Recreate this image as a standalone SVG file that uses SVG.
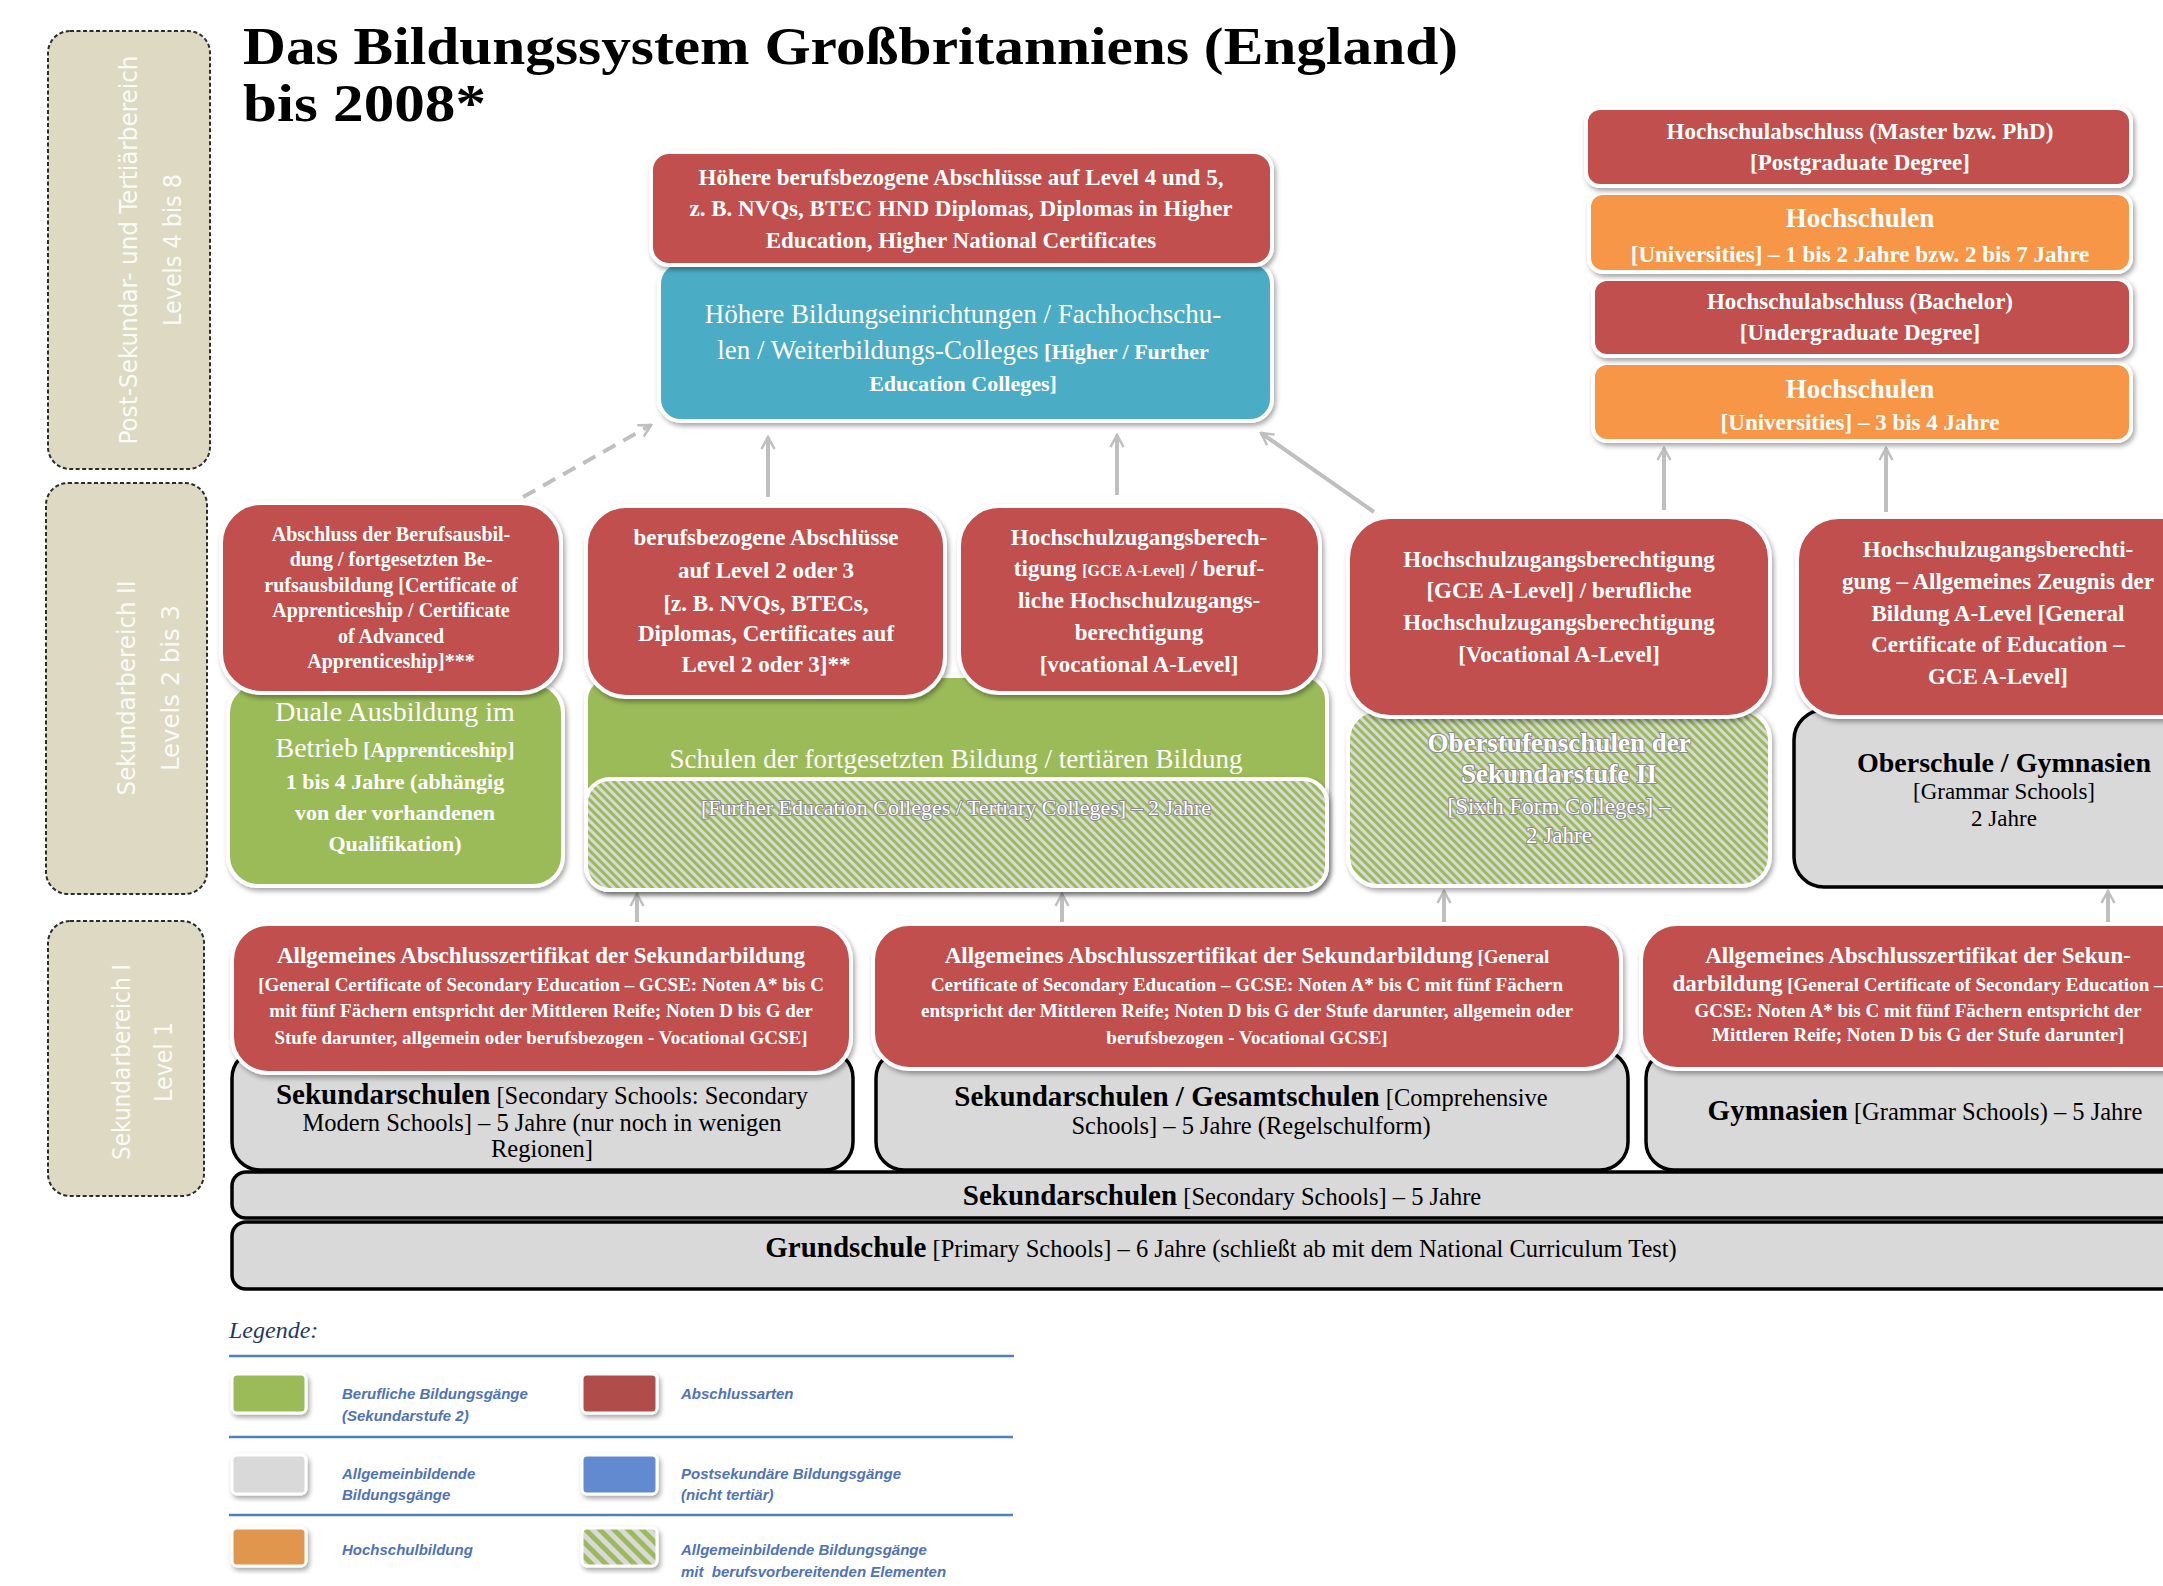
<svg xmlns="http://www.w3.org/2000/svg" width="2163" height="1586" viewBox="0 0 2163 1586">
<defs>
<style>
.bx{stroke:#fff;stroke-width:4;filter:url(#sh)}
.red{fill:#c0504d}
.grn{fill:#9bbb59}
.blu{fill:#4bacc6}
.org{fill:#f79646}
.hat{fill:url(#hatch)}
.gb{fill:#d9d9d9;stroke:#000;stroke-width:3.5}
.band{fill:#ddd9c3;stroke:#2b2b2b;stroke-width:2;stroke-dasharray:4 2.5}
.bt{font-family:"Liberation Sans Narrow","DejaVu Sans Condensed","Liberation Sans",sans-serif;font-size:25px;fill:#fbfbf6;text-anchor:middle}
.w{font-family:"Liberation Serif","DejaVu Serif",serif;fill:#fff;text-anchor:middle;font-weight:bold}
.k{font-family:"Liberation Serif","DejaVu Serif",serif;fill:#000;text-anchor:middle;font-weight:normal}
.ht{paint-order:stroke;stroke:#8c8c8c;stroke-width:2;stroke-linejoin:round}
.b{font-weight:bold}
.r{font-weight:normal}
.con{stroke:#bfbfbf;stroke-width:4;fill:none;marker-end:url(#ah)}
.lg{font-family:"Liberation Sans","DejaVu Sans",sans-serif;font-style:italic;font-weight:bold;font-size:15px;fill:#4f72b8}
.ll{stroke:#4f81bd;stroke-width:2.5}
.sw{stroke:#fff;stroke-width:3;filter:url(#sh)}
</style>
<filter id="sh" x="-10%" y="-10%" width="120%" height="130%">
<feDropShadow dx="2" dy="3" stdDeviation="2.5" flood-color="#000" flood-opacity="0.35"/>
</filter>
<pattern id="hatch" patternUnits="userSpaceOnUse" width="6" height="6" patternTransform="rotate(-45)">
<rect width="6" height="6" fill="#d9d9d9"/>
<rect width="3" height="6" fill="#9bbb59"/>
</pattern>
<pattern id="hatch2" patternUnits="userSpaceOnUse" width="10" height="10" patternTransform="rotate(-45)">
<rect width="10" height="10" fill="#d9d9d9"/>
<rect width="5" height="10" fill="#9bbb59"/>
</pattern>
<marker id="ah" viewBox="0 0 16 16" refX="14" refY="8" markerWidth="16" markerHeight="16" markerUnits="userSpaceOnUse" orient="auto">
<path d="M2,1.5 L14,8 L2,14.5" fill="none" stroke="#bfbfbf" stroke-width="2.5"/>
</marker>
</defs>
<rect width="2163" height="1586" fill="#fff"/>

<g id="title">
<text x="243" y="64" font-family="Liberation Serif, DejaVu Serif, serif" font-weight="bold" font-size="52" textLength="1215" lengthAdjust="spacingAndGlyphs">Das Bildungssystem Großbritanniens (England)</text>
<text x="243" y="121" font-family="Liberation Serif, DejaVu Serif, serif" font-weight="bold" font-size="52" textLength="243" lengthAdjust="spacingAndGlyphs">bis 2008*</text>
</g>

<g id="band-post">
<rect class="band" x="48" y="31" width="162" height="438" rx="22"/>
<text class="bt" transform="translate(137,250) rotate(-90)" textLength="389" lengthAdjust="spacingAndGlyphs">Post-Sekundar- und Tertiärbereich</text>
<text class="bt" transform="translate(181,250) rotate(-90)" textLength="152" lengthAdjust="spacingAndGlyphs">Levels 4 bis 8</text>
</g>
<g id="band-sek2">
<rect class="band" x="46" y="483" width="161" height="411" rx="22"/>
<text class="bt" transform="translate(135,688) rotate(-90)" textLength="215" lengthAdjust="spacingAndGlyphs">Sekundarbereich II</text>
<text class="bt" transform="translate(179,688) rotate(-90)" textLength="166" lengthAdjust="spacingAndGlyphs">Levels 2 bis 3</text>
</g>
<g id="band-sek1">
<rect class="band" x="48" y="921" width="156" height="275" rx="22"/>
<text class="bt" transform="translate(130,1062) rotate(-90)" textLength="196" lengthAdjust="spacingAndGlyphs">Sekundarbereich I</text>
<text class="bt" transform="translate(172,1062) rotate(-90)" textLength="80" lengthAdjust="spacingAndGlyphs">Level 1</text>
</g>

<g id="connectors">
<line class="con" x1="523" y1="497" x2="651" y2="425" stroke-dasharray="14 9"/>
<line class="con" x1="768" y1="497" x2="768" y2="437"/>
<line class="con" x1="1117" y1="495" x2="1117" y2="435"/>
<line class="con" x1="1374" y1="512" x2="1261" y2="433"/>
<line class="con" x1="1664" y1="510" x2="1664" y2="448"/>
<line class="con" x1="1886" y1="512" x2="1886" y2="448"/>
<line class="con" x1="637" y1="922" x2="637" y2="894"/>
<line class="con" x1="1062" y1="922" x2="1062" y2="894"/>
<line class="con" x1="1444" y1="922" x2="1444" y2="891"/>
<line class="con" x1="2108" y1="922" x2="2108" y2="891"/>
</g>

<g id="n-fe-colleges">
<rect class="bx blu" x="659" y="262" width="613" height="159" rx="22"/>
<text class="w r" x="963" y="323" font-size="27">Höhere Bildungseinrichtungen / Fachhochschu-</text>
<text class="w r" x="963" y="359" font-size="27">len / Weiterbildungs-Colleges<tspan class="b" font-size="22"> [Higher / Further</tspan></text>
<text class="w" x="963" y="391" font-size="22">Education Colleges]</text>
</g>
<g id="n-hoehere-abschluesse">
<rect class="bx red" x="651" y="152" width="621" height="113" rx="18"/>
<text class="w" x="961" y="185" font-size="23">Höhere berufsbezogene Abschlüsse auf Level 4 und 5,</text>
<text class="w" x="961" y="216" font-size="23">z. B. NVQs, BTEC HND Diplomas, Diplomas in Higher</text>
<text class="w" x="961" y="248" font-size="23">Education, Higher National Certificates</text>
</g>

<g id="n-uni-34">
<rect class="bx org" x="1593" y="363" width="538" height="78" rx="14"/>
<text class="w" x="1860" y="398" font-size="27">Hochschulen</text>
<text class="w" x="1860" y="430" font-size="23">[Universities] – 3 bis 4 Jahre</text>
</g>
<g id="n-bachelor">
<rect class="bx red" x="1593" y="279" width="538" height="77" rx="14"/>
<text class="w" x="1860" y="309" font-size="23">Hochschulabschluss (Bachelor)</text>
<text class="w" x="1860" y="340" font-size="23">[Undergraduate Degree]</text>
</g>
<g id="n-uni-12">
<rect class="bx org" x="1589" y="193" width="542" height="79" rx="14"/>
<text class="w" x="1860" y="227" font-size="27">Hochschulen</text>
<text class="w" x="1860" y="262" font-size="23">[Universities] – 1 bis 2 Jahre bzw. 2 bis 7 Jahre</text>
</g>
<g id="n-master">
<rect class="bx red" x="1586" y="108" width="545" height="78" rx="14"/>
<text class="w" x="1860" y="139" font-size="23">Hochschulabschluss (Master bzw. PhD)</text>
<text class="w" x="1860" y="170" font-size="23">[Postgraduate Degree]</text>
</g>

<g id="n-duale-ausbildung">
<rect class="bx grn" x="228" y="683" width="335" height="203" rx="30"/>
<text class="w r" x="395" y="721" font-size="28">Duale Ausbildung im</text>
<text class="w r" x="395" y="757" font-size="28">Betrieb<tspan class="b" font-size="21"> [Apprenticeship]</tspan></text>
<text class="w" x="395" y="789" font-size="22">1 bis 4 Jahre (abhängig</text>
<text class="w" x="395" y="820" font-size="22">von der vorhandenen</text>
<text class="w" x="395" y="851" font-size="22">Qualifikation)</text>
</g>
<g id="n-abschluss-berufsausbildung">
<rect class="bx red" x="221" y="503" width="340" height="190" rx="40"/>
<text class="w" x="391" y="541" font-size="20">Abschluss der Berufsausbil-</text>
<text class="w" x="391" y="566" font-size="20">dung / fortgesetzten Be-</text>
<text class="w" x="391" y="592" font-size="20">rufsausbildung [Certificate of</text>
<text class="w" x="391" y="617" font-size="20">Apprenticeship / Certificate</text>
<text class="w" x="391" y="643" font-size="20">of Advanced</text>
<text class="w" x="391" y="668" font-size="20">Apprenticeship]***</text>
</g>

<g id="n-schulen-fortgesetzt">
<rect class="bx grn" x="586" y="676" width="741" height="214" rx="24"/>
<text class="w r" x="956" y="768" font-size="27">Schulen der fortgesetzten Bildung / tertiären Bildung</text>
</g>
<g id="n-fe-tertiary-colleges">
<rect class="bx hat" x="586" y="779" width="741" height="111" rx="24"/>
<text class="w r ht" x="956" y="815" font-size="22">[Further Education Colleges / Tertiary Colleges] – 2 Jahre</text>
</g>
<g id="n-berufsbezogene-abschluesse">
<rect class="bx red" x="586" y="506" width="359" height="191" rx="40"/>
<text class="w" x="766" y="545" font-size="23">berufsbezogene Abschlüsse</text>
<text class="w" x="766" y="578" font-size="23">auf Level 2 oder 3</text>
<text class="w" x="766" y="611" font-size="23">[z. B. NVQs, BTECs,</text>
<text class="w" x="766" y="641" font-size="23">Diplomas, Certificates auf</text>
<text class="w" x="766" y="672" font-size="23">Level 2 oder 3]**</text>
</g>
<g id="n-hzb-vocational">
<rect class="bx red" x="959" y="506" width="361" height="187" rx="40"/>
<text class="w" x="1139" y="545" font-size="23">Hochschulzugangsberech-</text>
<text class="w" x="1139" y="576" font-size="23">tigung <tspan font-size="16">[GCE A-Level]</tspan> / beruf-</text>
<text class="w" x="1139" y="608" font-size="23">liche Hochschulzugangs-</text>
<text class="w" x="1139" y="640" font-size="23">berechtigung</text>
<text class="w" x="1139" y="672" font-size="23">[vocational A-Level]</text>
</g>

<g id="n-sixth-form">
<rect class="bx hat" x="1348" y="710" width="422" height="176" rx="30"/>
<text class="w ht" x="1559" y="752" font-size="27">Oberstufenschulen der</text>
<text class="w ht" x="1559" y="783" font-size="27">Sekundarstufe II</text>
<text class="w r ht" x="1559" y="814" font-size="23">[Sixth Form Colleges] –</text>
<text class="w r ht" x="1559" y="843" font-size="23">2 Jahre</text>
</g>
<g id="n-hzb-a-level">
<rect class="bx red" x="1348" y="517" width="422" height="200" rx="42"/>
<text class="w" x="1559" y="567" font-size="23">Hochschulzugangsberechtigung</text>
<text class="w" x="1559" y="598" font-size="23">[GCE A-Level] / berufliche</text>
<text class="w" x="1559" y="630" font-size="23">Hochschulzugangsberechtigung</text>
<text class="w" x="1559" y="662" font-size="23">[Vocational A-Level]</text>
</g>

<g id="n-oberschule">
<rect class="gb" x="1794" y="710" width="420" height="177" rx="30"/>
<text class="k b" x="2004" y="772" font-size="28">Oberschule / Gymnasien</text>
<text class="k" x="2004" y="799" font-size="23">[Grammar Schools]</text>
<text class="k" x="2004" y="826" font-size="23">2 Jahre</text>
</g>
<g id="n-hzb-gce">
<rect class="bx red" x="1797" y="517" width="420" height="200" rx="42"/>
<text class="w" x="1998" y="557" font-size="23">Hochschulzugangsberechti-</text>
<text class="w" x="1998" y="589" font-size="23">gung – Allgemeines Zeugnis der</text>
<text class="w" x="1998" y="621" font-size="23">Bildung A-Level [General</text>
<text class="w" x="1998" y="652" font-size="23">Certificate of Education –</text>
<text class="w" x="1998" y="684" font-size="23">GCE A-Level]</text>
</g>

<g id="n-grundschule">
<rect class="gb" x="232" y="1222" width="1990" height="67" rx="14"/>
<text class="k" x="1221" y="1257" font-size="24.5"><tspan class="b" font-size="29">Grundschule</tspan> [Primary Schools] – 6 Jahre (schließt ab mit dem National Curriculum Test)</text>
</g>
<g id="n-sekundarschulen-bar">
<rect class="gb" x="232" y="1172" width="1990" height="46" rx="14"/>
<text class="k" x="1222" y="1205" font-size="24.5"><tspan class="b" font-size="29">Sekundarschulen</tspan> [Secondary Schools] – 5 Jahre</text>
</g>

<g id="n-secondary-modern">
<rect class="gb" x="232" y="1050" width="621" height="120" rx="28"/>
<text class="k" x="542" y="1104" font-size="24.5"><tspan class="b" font-size="29">Sekundarschulen</tspan> [Secondary Schools: Secondary</text>
<text class="k" x="542" y="1131" font-size="24.5">Modern Schools] – 5 Jahre (nur noch in wenigen</text>
<text class="k" x="542" y="1157" font-size="24.5">Regionen]</text>
</g>
<g id="n-gcse-1">
<rect class="bx red" x="232" y="924" width="619" height="149" rx="36"/>
<text class="w" x="541" y="963" font-size="23">Allgemeines Abschlusszertifikat der Sekundarbildung</text>
<text class="w" x="541" y="991" font-size="19">[General Certificate of Secondary Education – GCSE: Noten A* bis C</text>
<text class="w" x="541" y="1017" font-size="19">mit fünf Fächern entspricht der Mittleren Reife; Noten D bis G der</text>
<text class="w" x="541" y="1044" font-size="19">Stufe darunter, allgemein oder berufsbezogen - Vocational GCSE]</text>
</g>

<g id="n-comprehensive">
<rect class="gb" x="876" y="1050" width="752" height="120" rx="28"/>
<text class="k" x="1251" y="1106" font-size="24.5"><tspan class="b" font-size="29">Sekundarschulen / Gesamtschulen</tspan> [Comprehensive</text>
<text class="k" x="1251" y="1134" font-size="24.5">Schools] – 5 Jahre (Regelschulform)</text>
</g>
<g id="n-gcse-2">
<rect class="bx red" x="873" y="924" width="748" height="145" rx="36"/>
<text class="w" x="1247" y="963" font-size="23">Allgemeines Abschlusszertifikat der Sekundarbildung<tspan font-size="19"> [General</tspan></text>
<text class="w" x="1247" y="991" font-size="19">Certificate of Secondary Education – GCSE: Noten A* bis C mit fünf Fächern</text>
<text class="w" x="1247" y="1017" font-size="19">entspricht der Mittleren Reife; Noten D bis G der Stufe darunter, allgemein oder</text>
<text class="w" x="1247" y="1044" font-size="19">berufsbezogen - Vocational GCSE]</text>
</g>

<g id="n-gymnasien">
<rect class="gb" x="1646" y="1050" width="570" height="120" rx="28"/>
<text class="k" x="1925" y="1120" font-size="24.5"><tspan class="b" font-size="29">Gymnasien</tspan> [Grammar Schools) – 5 Jahre</text>
</g>
<g id="n-gcse-3">
<rect class="bx red" x="1641" y="924" width="570" height="145" rx="36"/>
<text class="w" x="1918" y="963" font-size="23">Allgemeines Abschlusszertifikat der Sekun-</text>
<text class="w" x="1918" y="991" font-size="23">darbildung<tspan font-size="19"> [General Certificate of Secondary Education –</tspan></text>
<text class="w" x="1918" y="1017" font-size="19">GCSE: Noten A* bis C mit fünf Fächern entspricht der</text>
<text class="w" x="1918" y="1041" font-size="19">Mittleren Reife; Noten D bis G der Stufe darunter]</text>
</g>

<g id="legend">
<text x="229" y="1338" font-family="Liberation Serif, DejaVu Serif, serif" font-style="italic" font-size="24" fill="#1f3864">Legende:</text>
<line class="ll" x1="229" y1="1356" x2="1014" y2="1356"/>
<line class="ll" x1="229" y1="1437" x2="1013" y2="1437"/>
<line class="ll" x1="229" y1="1515" x2="1013" y2="1515"/>
<rect class="sw" x="232" y="1374" width="74" height="39" rx="5" fill="#9bbb59"/>
<rect class="sw" x="582" y="1374" width="75" height="39" rx="5" fill="#b04d4b"/>
<rect class="sw" x="232" y="1455" width="74" height="39" rx="5" fill="#d9d9d9"/>
<rect class="sw" x="582" y="1455" width="75" height="39" rx="5" fill="#628ad0"/>
<rect class="sw" x="232" y="1528" width="74" height="38" rx="5" fill="#e0964e"/>
<rect class="sw" x="582" y="1528" width="75" height="38" rx="5" fill="url(#hatch2)"/>
<text class="lg" x="342" y="1399">Berufliche Bildungsgänge</text>
<text class="lg" x="342" y="1421">(Sekundarstufe 2)</text>
<text class="lg" x="681" y="1399">Abschlussarten</text>
<text class="lg" x="342" y="1479">Allgemeinbildende</text>
<text class="lg" x="342" y="1500">Bildungsgänge</text>
<text class="lg" x="681" y="1479">Postsekundäre Bildungsgänge</text>
<text class="lg" x="681" y="1500">(nicht tertiär)</text>
<text class="lg" x="342" y="1555">Hochschulbildung</text>
<text class="lg" x="681" y="1555">Allgemeinbildende Bildungsgänge</text>
<text class="lg" x="681" y="1577" xml:space="preserve">mit  berufsvorbereitenden Elementen</text>
</g>
</svg>
